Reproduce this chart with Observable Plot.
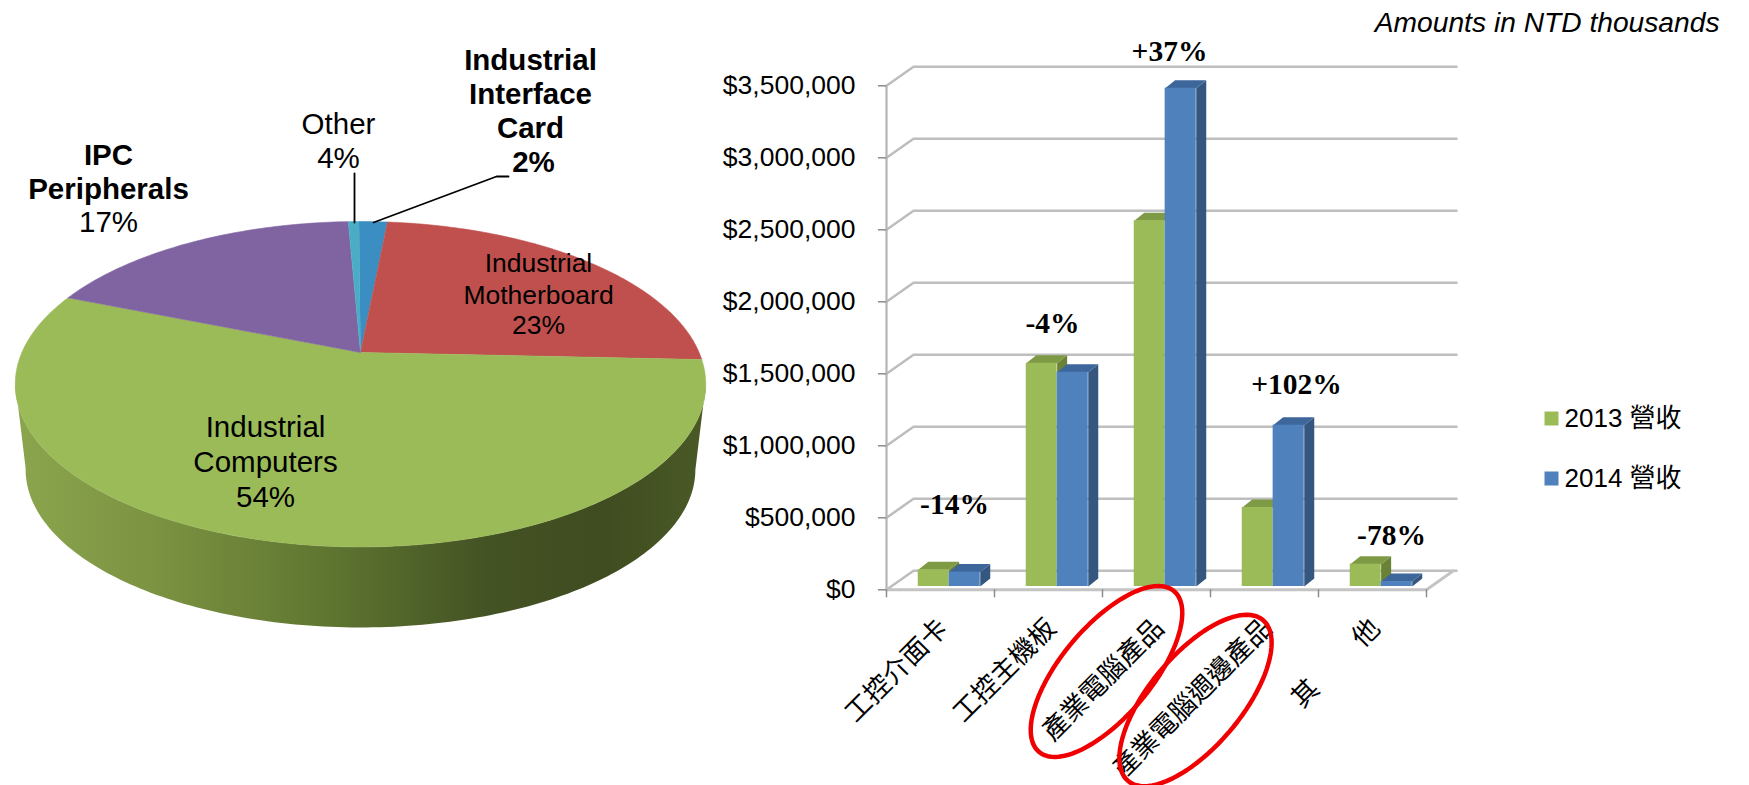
<!DOCTYPE html>
<html>
<head>
<meta charset="utf-8">
<script src="https://cdn.jsdelivr.net/npm/d3@7"></script>
<script src="https://cdn.jsdelivr.net/npm/@observablehq/plot@0.6"></script>
<style>
html,body{margin:0;padding:0;background:#fff;overflow:hidden}
#chart{display:flex;width:1749px;height:785px}
#chart svg{display:block;flex:none;max-width:none;background:transparent}
</style>
</head>
<body>
<div id="chart"></div>
<script>
// ---------- data ----------
const pieCategories = ["Industrial Interface Card","Industrial Motherboard","Industrial Computers","IPC Peripherals","Other"];
const pieLabelPercents = ["2%","23%","54%","17%","4%"];
// slice sizes as actually drawn in the picture (%)
const pieDrawnShares = [1.6,24.2,55.4,18.2,0.6];
const pieColors = ["#3b8ec2","#c0504d","#9bbb59","#8064a2","#4bacc6"];

const barCategories = ["工控介面卡","工控主機板","產業電腦產品","產業電腦週邊產品","其　　 他"];
const revenue2013 = [116000,1550000,2540000,549000,155000];
const revenue2014 = [100000,1488000,3460000,1120000,34000];
const changeLabels = ["-14%","-4%","+37%","+102%","-78%"];
const yTicks = [0,500000,1000000,1500000,2000000,2500000,3000000,3500000];
const legendNames = ["2013 營收","2014 營收"];
const legendColors = ["#9bbb59","#4f81bd"];
const note = "Amounts in NTD thousands";

// ---------- layout ----------
const W = 1749, H = 785, leftW = 716;
const sans = '"Liberation Sans","Noto Sans CJK TC",sans-serif';
const cjk = '"Noto Sans CJK TC","Liberation Sans",sans-serif';
const serif = '"Liberation Serif",serif';

// ---------- pie (perspective disc in unit coordinates) ----------
const persp = 0.195;
const project = deg => {
  const a = deg * Math.PI / 180, X = Math.sin(a), Y = Math.cos(a), k = 1 + persp * Y;
  return {x: X / k, y: Y / k};
};
const wallScale = 0.97, wallDrop = 0.552;
const startDeg = -0.3;
let acc = startDeg;
const sliceMarks = pieCategories.map((name, i) => {
  const a0 = acc, a1 = acc + pieDrawnShares[i] * 3.6;
  acc = a1;
  const n = Math.max(2, Math.ceil((a1 - a0) / 1));
  const pts = [{x: 0, y: 0}];
  for (let j = 0; j <= n; ++j) pts.push(project(a0 + (a1 - a0) * j / n));
  return Plot.line(pts, {x: "x", y: "y", fill: pieColors[i], stroke: pieColors[i], strokeWidth: 0.6});
});
const tangent = Math.acos(-persp) * 180 / Math.PI;
const wallTop = d3.range(tangent, 360 - tangent + 0.5, 1).map(project);
const wallBottom = wallTop.slice().reverse().map(p => ({x: p.x * wallScale, y: p.y * wallScale - wallDrop}));
const wall = wallTop.concat(wallBottom);
const gradientMark = () => {
  const g = d3.create("svg:g");
  const lg = g.append("defs").append("linearGradient").attr("id", "wallGrad").attr("x1", 0).attr("x2", 1).attr("y1", 0).attr("y2", 0);
  [[0, "#8ba54d"], [0.2, "#7c9342"], [0.45, "#5f7631"], [0.68, "#445324"], [0.85, "#3f4c20"], [1, "#4a5a26"]]
    .forEach(([o, c]) => lg.append("stop").attr("offset", o).attr("stop-color", c));
  return g.node();
};
const pieX = d3.scaleLinear([360 - 338.6, 360 + 338.6], [-1, 1]);
const pieY = d3.scaleLinear([508.5, 195.5], [-1, 1]);
const pieText = [
  {t: "Industrial", px: 530, py: 60, b: 1, s: 29.5},
  {t: "Interface", px: 530, py: 94, b: 1, s: 29.5},
  {t: "Card", px: 530, py: 128, b: 1, s: 29.5},
  {t: pieLabelPercents[0], px: 533, py: 162, b: 1, s: 29.5},
  {t: "Other", px: 338, py: 124, b: 0, s: 29.5},
  {t: pieLabelPercents[4], px: 338, py: 158, b: 0, s: 29.5},
  {t: "IPC", px: 108, py: 155, b: 1, s: 29.5},
  {t: "Peripherals", px: 108, py: 189, b: 1, s: 29.5},
  {t: pieLabelPercents[3], px: 108, py: 222, b: 0, s: 29.5},
  {t: "Industrial", px: 538, py: 263, b: 0, s: 26.5},
  {t: "Motherboard", px: 538, py: 295, b: 0, s: 26.5},
  {t: pieLabelPercents[1], px: 538, py: 325, b: 0, s: 26.5},
  {t: "Industrial", px: 265, py: 427, b: 0, s: 29.5},
  {t: "Computers", px: 265, py: 462, b: 0, s: 29.5},
  {t: pieLabelPercents[2], px: 265, py: 497, b: 0, s: 29.5}
];
const leaders = [
  [[354, 173], [354, 222]],
  [[373, 222], [496, 176], [508, 176]]
].flatMap((l, k) => l.map(([px, py]) => ({x: pieX(px), y: pieY(py), k})));

const piePlot = Plot.plot({
  width: leftW, height: H, margin: 0,
  style: {fontFamily: sans, background: "transparent", overflow: "visible"},
  x: {axis: null, domain: [-1, 1], range: [360 - 338.6, 360 + 338.6]},
  y: {axis: null, domain: [-1, 1], range: [508.5, 195.5]},
  marks: [
    gradientMark,
    Plot.line(wall, {x: "x", y: "y", fill: "url(#wallGrad)", stroke: "none"}),
    ...sliceMarks,
    Plot.line(leaders, {x: "x", y: "y", z: "k", stroke: "#000", strokeWidth: 1.8}),
    ...[0, 1].flatMap(b => [26.5, 29.5].map(s =>
      Plot.text(pieText.filter(d => d.b === b && d.s === s), {
        x: d => pieX(d.px), y: d => pieY(d.py), text: "t", fill: "#000",
        fontSize: s, fontWeight: b ? "bold" : "normal", lineAnchor: "middle"
      })))
  ]
});

// ---------- bars ----------
const xRange = [886 - leftW, 1426 - leftW];
const yRange = [589.3, 85.3];
const barX = d3.scaleLinear(xRange, [0, 5]);
const barY = d3.scaleLinear(yRange, [0, 3500000]);
const wallDx = 0.25, wallDy = 132000, wallEnd = 5.278;
const gridLines = yTicks.flatMap(v => [
  {x: 0, y: v, v}, {x: wallDx, y: v + wallDy, v}, {x: wallEnd, y: v + wallDy, v}
]);
const floorLine = [{x: 0, y: 0}, {x: 5, y: 0}, {x: 5 + wallDx, y: wallDy}];

const depthX = 10 / 108, depthY = 55556, lift = 23000;
const series = [
  {vals: revenue2013, from: 0.294, to: 0.58, front: "#9bbb59", top: "#7f9a45", side: "#6a8236"},
  {vals: revenue2014, from: 0.58, to: 0.868, front: "#4f81bd", top: "#3d669b", side: "#34567f"}
];
const barMarks = series.flatMap(s => {
  const rects = s.vals.map((v, i) => ({x1: i + s.from, x2: i + s.to, y1: lift, y2: lift + v}));
  const side = rects.flatMap((r, k) => [
    {x: r.x2, y: r.y1, k}, {x: r.x2 + depthX, y: r.y1 + depthY, k},
    {x: r.x2 + depthX, y: r.y2 + depthY, k}, {x: r.x2, y: r.y2, k}
  ]);
  const top = rects.flatMap((r, k) => [
    {x: r.x1, y: r.y2, k}, {x: r.x1 + depthX, y: r.y2 + depthY, k},
    {x: r.x2 + depthX, y: r.y2 + depthY, k}, {x: r.x2, y: r.y2, k}
  ]);
  return [
    Plot.line(side, {x: "x", y: "y", z: "k", fill: s.side, stroke: "none"}),
    Plot.line(top, {x: "x", y: "y", z: "k", fill: s.top, stroke: "none"}),
    Plot.rect(rects, {x1: "x1", x2: "x2", y1: "y1", y2: "y2", fill: s.front})
  ];
});

// change labels: placement above each group
const changeAt = [[954, 504], [1052, 323], [1169, 51], [1296, 384], [1391, 535]];
const changeData = changeLabels.map((t, i) => ({t, x: barX(changeAt[i][0] - leftW), y: barY(changeAt[i][1])}));

// hand-drawn red highlight rings around two category labels
const ring = (cx, cy, a, b, deg, k) => {
  const r = deg * Math.PI / 180;
  return d3.range(0, 361, 4).map(t => {
    const u = t * Math.PI / 180, ex = a * Math.cos(u), ey = b * Math.sin(u);
    return {
      x: barX(cx - leftW + ex * Math.cos(r) + ey * Math.sin(r)),
      y: barY(cy - ex * Math.sin(r) + ey * Math.cos(r)), k
    };
  });
};
const rings = [...ring(1106, 671, 105, 45, 50, 0), ...ring(1195, 700, 105, 46, 50, 1)];

const legendRows = legendNames.map((t, i) => ({
  t, c: legendColors[i], sx: barX(1551 - leftW), tx: barX(1564 - leftW), y: barY(418 + i * 60)
}));

const barPlot = Plot.plot({
  width: W - leftW, height: H,
  marginLeft: xRange[0], marginRight: W - leftW - xRange[1],
  marginTop: yRange[1], marginBottom: H - yRange[0],
  style: {fontFamily: sans, background: "transparent", overflow: "visible"},
  x: {type: "linear", domain: [0, 5], range: xRange, axis: null},
  y: {type: "linear", domain: [0, 3500000], range: yRange, axis: null},
  color: {type: "identity"},
  marks: [
    Plot.line(gridLines, {x: "x", y: "y", z: "v", stroke: "#bebebe", strokeWidth: 2.6}),
    Plot.ruleX([0], {y1: 0, y2: 3500000, stroke: "#b4b4b4", strokeWidth: 2.2}),
    Plot.line(floorLine, {x: "x", y: "y", stroke: "#c4c4c4", strokeWidth: 3}),
    Plot.axisY({
      ticks: yTicks, tickSize: 8, tickPadding: 23, label: null, stroke: "#8c8c8c", strokeWidth: 1.5,
      fontSize: 26.5, fill: "#000", tickFormat: d => "$" + d3.format(",")(d)
    }),
    Plot.axisX({
      ticks: d3.range(0, 6), tickSize: 8, tickFormat: () => "", label: null,
      stroke: "#8c8c8c", strokeWidth: 1.5
    }),
    ...barMarks,
    Plot.text(barCategories, {
      x: (d, i) => i + 0.5, y: 0, text: d => d, rotate: -45, textAnchor: "end",
      dx: 3, dy: 34, fontSize: 26.5, fontFamily: cjk, fill: "#000", lineAnchor: "middle"
    }),
    Plot.text(changeData, {
      x: "x", y: "y", text: "t", fontFamily: serif, fontWeight: "bold", fontSize: 29.5,
      fill: "#000", lineAnchor: "middle"
    }),
    Plot.line(rings, {x: "x", y: "y", z: "k", stroke: "#f00000", strokeWidth: 4.5, curve: "linear"}),
    Plot.dot(legendRows, {x: "sx", y: "y", symbol: "square", r: 7.9, fill: "c", stroke: "none"}),
    Plot.text(legendRows, {
      x: "tx", y: "y", text: "t", textAnchor: "start", fontSize: 26, fill: "#000", lineAnchor: "middle"
    }),
    Plot.text([note], {
      x: barX(1719 - leftW), y: barY(22), text: d => d, textAnchor: "end", fontStyle: "italic",
      fontSize: 28.2, fill: "#000", lineAnchor: "middle"
    })
  ]
});

const root = document.getElementById("chart");
root.append(piePlot, barPlot);
</script>
</body>
</html>
